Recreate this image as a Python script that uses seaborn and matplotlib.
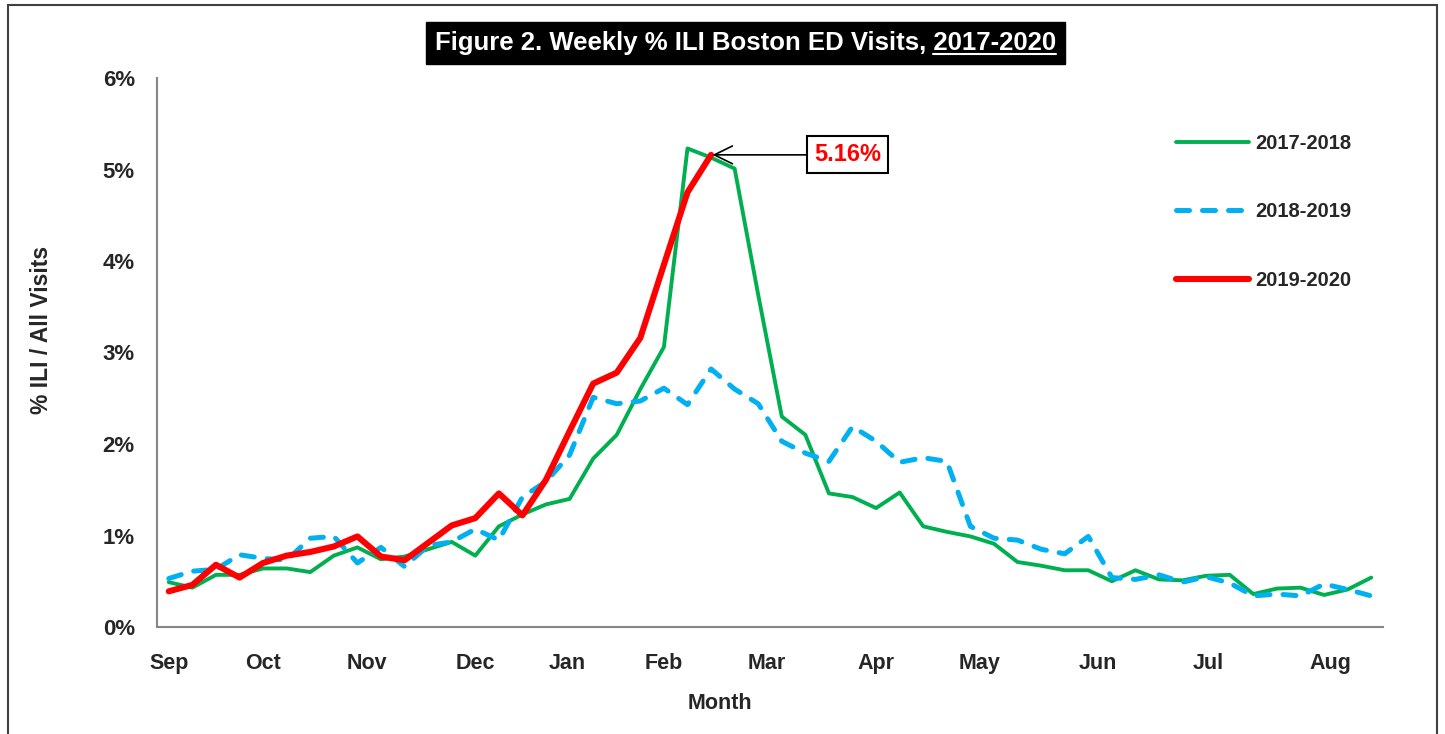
import matplotlib
matplotlib.use("Agg")
import matplotlib.pyplot as plt
import matplotlib.ticker as mticker
from matplotlib.lines import Line2D
from matplotlib.patches import Rectangle
import numpy as np
import pandas as pd
import seaborn as sns

seasons = ["2017-2018", "2018-2019", "2019-2020"]
month_labels = ["Sep", "Oct", "Nov", "Dec", "Jan", "Feb", "Mar", "Apr", "May", "Jun", "Jul", "Aug"]

# weekly % ILI of all ED visits, week 0 = first week of September
ili_2017_18 = [0.49, 0.43, 0.57, 0.57, 0.64, 0.64, 0.60, 0.78, 0.87, 0.74,
               0.77, 0.85, 0.93, 0.78, 1.10, 1.23, 1.34, 1.40, 1.84, 2.10,
               2.60, 3.06, 5.23, 5.13, 5.01, 3.63, 2.30, 2.10, 1.46, 1.42,
               1.30, 1.47, 1.10, 1.04, 0.99, 0.91, 0.71, 0.67, 0.62, 0.62,
               0.50, 0.62, 0.52, 0.51, 0.56, 0.57, 0.36, 0.42, 0.43, 0.35,
               0.41, 0.54]
ili_2018_19 = [0.53, 0.61, 0.63, 0.79, 0.75, 0.73, 0.97, 0.99, 0.70, 0.87,
               0.66, 0.89, 0.93, 1.07, 0.95, 1.42, 1.59, 1.88, 2.51, 2.44,
               2.47, 2.61, 2.43, 2.82, 2.60, 2.44, 2.03, 1.90, 1.81, 2.19,
               2.03, 1.80, 1.85, 1.81, 1.10, 0.97, 0.95, 0.85, 0.80, 0.99,
               0.54, 0.52, 0.57, 0.49, 0.55, 0.48, 0.34, 0.36, 0.34, 0.47,
               0.41, 0.34]
ili_2019_20 = [0.39, 0.46, 0.68, 0.54, 0.70, 0.78, 0.82, 0.88, 0.99, 0.77,
               0.73, 0.92, 1.11, 1.19, 1.46, 1.22, 1.61, 2.14, 2.66, 2.78,
               3.16, 3.96, 4.75, 5.16]

# where the month names sit along the week axis
month_pos = [0, 4.0, 8.4, 13.0, 16.9, 21.0, 25.35, 30.0, 34.4, 39.4, 44.1, 49.25]

rows = []
for season, vals in zip(seasons, [ili_2017_18, ili_2018_19, ili_2019_20]):
    for week, v in enumerate(vals):
        rows.append((season, week, v / 100))
df = pd.DataFrame(rows, columns=["season", "week", "pct"])

sns.set_style("white")
plt.rcParams["font.family"] = ["Liberation Sans Narrow", "Liberation Sans", "DejaVu Sans"]
plt.rcParams["font.weight"] = "bold"

colors = {"2017-2018": "#00B050", "2018-2019": "#00B0F0", "2019-2020": "#FF0000"}
dashes = {"2017-2018": "", "2018-2019": (2.6, 2.6), "2019-2020": ""}
widths = {"2017-2018": 2.8, "2018-2019": 3.6, "2019-2020": 4.4}

fig = plt.figure(figsize=(14.45, 7.34), dpi=100)
ax = fig.add_axes([157 / 1445, 1 - 627 / 734, (1383 - 157) / 1445, 549 / 734])

sns.lineplot(data=df, x="week", y="pct", hue="season", style="season", size="season",
             palette=colors, dashes=dashes, sizes=widths, hue_order=seasons,
             style_order=seasons, size_order=seasons, legend=False, ax=ax)

for line in ax.lines:
    line.set_solid_joinstyle("round")
    line.set_dash_joinstyle("round")
    line.set_dash_capstyle("round")
    line.set_solid_capstyle("round")

grey = "#868686"
ax.set_xlim(-0.5, 51.5)
ax.set_ylim(0, 0.06)
ax.set_yticks(np.arange(0, 0.061, 0.01))
ax.yaxis.set_major_formatter(mticker.PercentFormatter(1, decimals=0))
ax.set_xticks(month_pos)
ax.set_xticklabels(month_labels)
ax.set_xticks(np.arange(-0.5, 52, 1), minor=True)
ax.tick_params(axis="x", which="major", length=0, pad=19, labelsize=15.5)
ax.tick_params(axis="x", which="minor", length=5, width=1.5, color=grey, direction="out")
ax.tick_params(axis="y", length=5, width=1.5, color=grey, direction="out", pad=11, labelsize=16)
for side in ["top", "right"]:
    ax.spines[side].set_visible(False)
for side in ["left", "bottom"]:
    ax.spines[side].set_color(grey)
    ax.spines[side].set_linewidth(1.5)

ax.set_xlabel("Month", fontsize=15.5, fontweight="bold")
ax.xaxis.set_label_coords(0.459, -0.12)
ax.set_ylabel("% ILI / All Visits", fontsize=16.5, fontweight="bold")
ax.yaxis.set_label_coords(-0.085, 0.541)

ax.annotate("5.16%", xy=(23, 0.0516), xytext=(28.8, 0.0516),
            ha="center", va="center", color="#FF0000", fontsize=17, fontweight="bold",
            bbox=dict(boxstyle="square,pad=0.3", fc="white", ec="black", lw=1.5),
            arrowprops=dict(arrowstyle="->,head_length=0.65,head_width=0.32",
                            color="black", lw=1.2, shrinkA=0, shrinkB=1, mutation_scale=20))

fig.legend(ax.lines, seasons, loc="upper left", bbox_to_anchor=(1166 / 1445, 1 - 124 / 734),
           frameon=False, handlelength=3.6, labelspacing=2.45, handletextpad=0.35,
           borderpad=0, prop={"size": 14.5, "weight": "bold"})

# title in a black box, with the years underlined
title_size = 18.5
title = fig.text(0.516, 1 - 43 / 734, "Figure 2. Weekly % ILI Boston ED Visits, 2017-2020",
                 ha="center", va="center", color="white", fontsize=title_size, fontweight="bold",
                 bbox=dict(boxstyle="square,pad=0.35", fc="black", ec="black"))
fig.canvas.draw()
renderer = fig.canvas.get_renderer()
full = title.get_window_extent(renderer)
tmp = fig.text(0, 0, "2017-2020", fontsize=title_size, fontweight="bold")
w = tmp.get_window_extent(renderer).width
tmp.remove()
W, H = fig.bbox.width, fig.bbox.height
uy = (full.y0 + 1) / H
fig.add_artist(Line2D([(full.x1 - w) / W, full.x1 / W], [uy, uy], color="white", lw=1.5,
                      zorder=10))

# outer frame of the figure
fig.add_artist(Rectangle((8 / 1445, -0.01), (1437 - 8) / 1445, 1.01 - 5 / 734,
                         transform=fig.transFigure, fill=False, ec="#404040", lw=1.5))

fig.savefig("out.png", dpi=100)
